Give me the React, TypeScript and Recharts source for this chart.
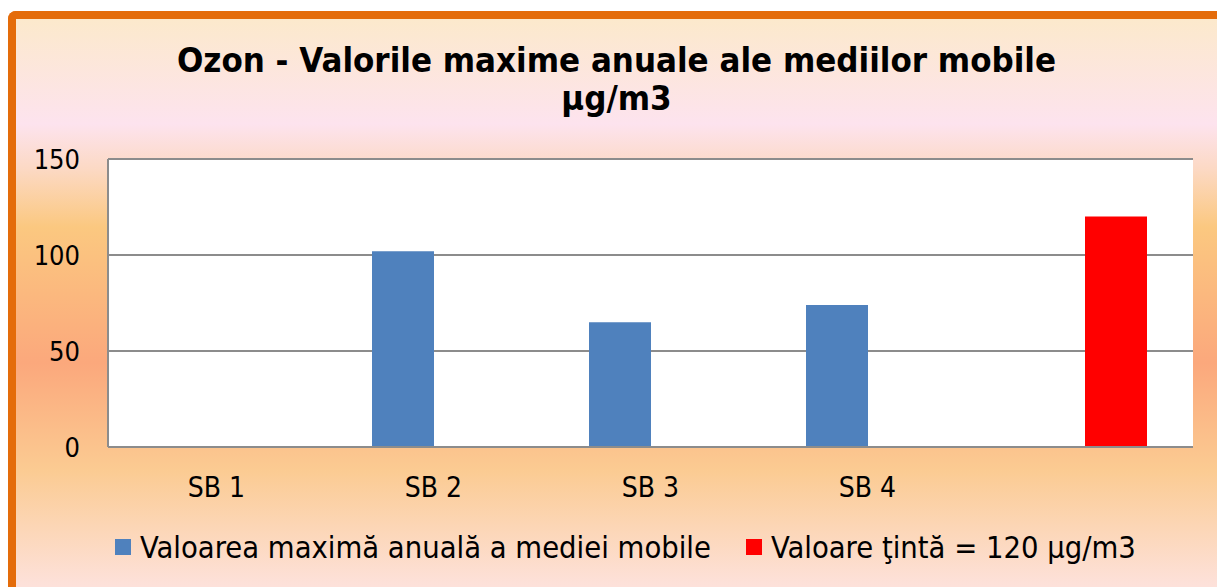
import React from "react";
import { BarChart, Bar, XAxis, YAxis, CartesianGrid, Legend } from "recharts";

// valori (µg/m3)
const STATII = ["SB 1", "SB 2", "SB 3", "SB 4", ""];
const MAX_ANUAL = [null, 102, 65, 74, null];
const VALOARE_TINTA = [null, null, null, null, 120];
const Y_TICKS = [0, 50, 100, 150];

const COLOR_MAX = "#4F81BD";
const COLOR_TINTA = "#FF0000";
const GRID = "#8C8C8C";
const FONT = "'DejaVu Sans Condensed', 'Liberation Sans Narrow', 'DejaVu Sans', sans-serif";

const W = 1201;
const H = 568;

const data = STATII.map((s, i) => ({
  statie: s,
  max: MAX_ANUAL[i],
  tinta: VALOARE_TINTA[i],
}));

const ORDINE = ["max", "tinta"];

function LegendaOzon({ payload }: any) {
  const items = [...(payload || [])].sort(
    (a: any, b: any) => ORDINE.indexOf(a.dataKey) - ORDINE.indexOf(b.dataKey)
  );
  return (
    <div style={{ display: "flex", alignItems: "center", paddingLeft: 99, height: 40, fontFamily: FONT, fontSize: 30.6, color: "#000" }}>
      {items.map((p: any, i: number) => (
        <div key={p.value} style={{ display: "flex", alignItems: "center", marginRight: i === 0 ? 35 : 0 }}>
          <span style={{ width: 16, height: 16, background: p.color, marginRight: 9, display: "inline-block" }} />
          <span>{p.value}</span>
        </div>
      ))}
    </div>
  );
}

export default function App() {
  return (
    <>
      <style>{`body{margin:0;overflow:hidden;}`}</style>
      <div
        style={{
          position: "absolute", left: 8, top: 11, width: 1260, height: 600,
          borderLeft: "8px solid #E46C0A", borderTop: "8px solid #E46C0A",
          borderTopLeftRadius: 8,
          background:
            "linear-gradient(to bottom, #FCE9CC 0px, #FDE3EE 105px, #FCD9C4 150px, #FBC880 208px, #FBA87C 344px, #FBCB92 451px, #FDE1DA 566px)",
        }}
      >
        <div
          style={{
            position: "absolute", left: 0, top: 22, width: W, textAlign: "center",
            fontFamily: FONT, fontWeight: "bold", fontSize: 34.5, lineHeight: "38px", color: "#000",
          }}
        >
          Ozon - Valorile maxime anuale ale mediilor mobile
          <br />
          µg/m3
        </div>
        <BarChart
          width={W}
          height={H}
          data={data}
          margin={{ top: 140, right: 24, left: 0, bottom: 20 }}
          barGap={0}
          barSize={62}
        >
          <CartesianGrid vertical={false} stroke={GRID} strokeWidth={2} fill="#FFFFFF" />
          <XAxis
            dataKey="statie"
            height={80}
            tickLine={false}
            tickSize={0}
            tickMargin={30}
            axisLine={{ stroke: GRID, strokeWidth: 2 }}
            tick={{ fontSize: 28, fill: "#000", fontFamily: FONT }}
            interval={0}
          />
          <YAxis
            width={92}
            domain={[0, 150]}
            ticks={Y_TICKS}
            tickLine={false}
            tickSize={0}
            tickMargin={28}
            axisLine={{ stroke: GRID, strokeWidth: 2 }}
            tick={{ fontSize: 27, fill: "#000", fontFamily: FONT }}
          />
          <Legend verticalAlign="bottom" align="left" width={W} content={<LegendaOzon />} />
          <Bar dataKey="max" name="Valoarea maximă anuală a mediei mobile" fill={COLOR_MAX} isAnimationActive={false} />
          <Bar dataKey="tinta" name="Valoare ţintă = 120 µg/m3" fill={COLOR_TINTA} isAnimationActive={false} />
        </BarChart>
      </div>
    </>
  );
}
